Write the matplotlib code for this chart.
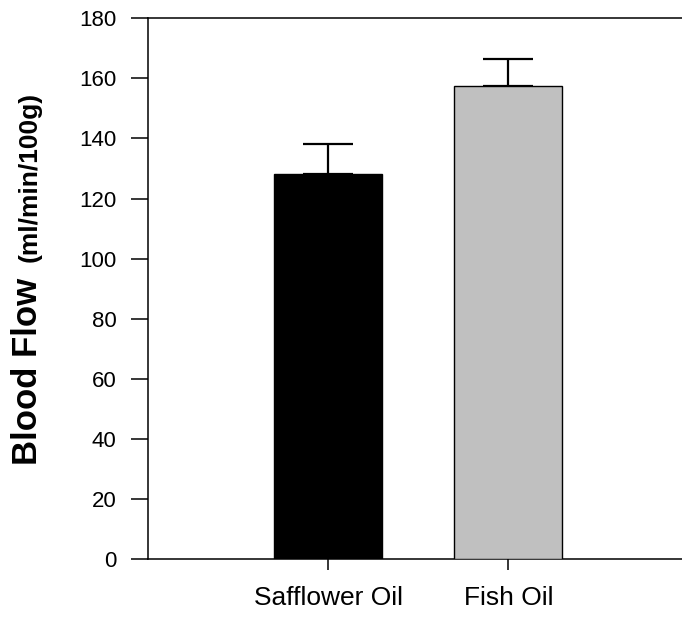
import matplotlib
matplotlib.use('Agg')
import matplotlib.pyplot as plt

# 数据
groups = ['Safflower Oil', 'Fish Oil']
blood_flow = [128.3, 157.6]
sem = [9.7, 9.0]
bar_colors = ['#000000', '#c0c0c0']
y_ticks = [0, 20, 40, 60, 80, 100, 120, 140, 160, 180]


def main():
    plt.rcParams['font.family'] = ['Liberation Sans', 'DejaVu Sans']

    fig = plt.figure(figsize=(6.82, 6.17), dpi=100)
    ax = fig.add_axes([0.2175, 0.094, 0.7826, 0.8763])

    x = [1, 2]
    ax.bar(x, blood_flow, width=0.6, color=bar_colors,
           edgecolor='black', linewidth=1.0, zorder=3)
    ax.errorbar(x, blood_flow, yerr=[[0, 0], sem], fmt='none',
                ecolor='black', elinewidth=1.6, capsize=18,
                capthick=1.6, zorder=2)

    ax.set_xlim(0, 2.965)
    ax.set_ylim(0, 180)
    ax.set_xticks(x)
    ax.set_xticklabels(groups, fontsize=19)
    ax.set_yticks(y_ticks)
    ax.tick_params(axis='y', labelsize=16, length=12, width=1.1,
                   pad=11, direction='out')
    ax.tick_params(axis='x', length=7.7, width=1.1, pad=12,
                   direction='out')

    for side in ['left', 'bottom', 'top']:
        ax.spines[side].set_linewidth(1.1)
    ax.spines['right'].set_visible(False)

    # 纵轴标题：两段不同字号
    fig.text(37 / 682, (617 - 465) / 617, 'Blood Flow', rotation=90,
             rotation_mode='anchor', ha='left', va='baseline',
             fontsize=25, fontweight='bold')
    fig.text(37 / 682, (617 - 262) / 617, '(ml/min/100g)', rotation=90,
             rotation_mode='anchor', ha='left', va='baseline',
             fontsize=19, fontweight='bold')

    plt.savefig('out.png', dpi=100)


if __name__ == '__main__':
    main()
